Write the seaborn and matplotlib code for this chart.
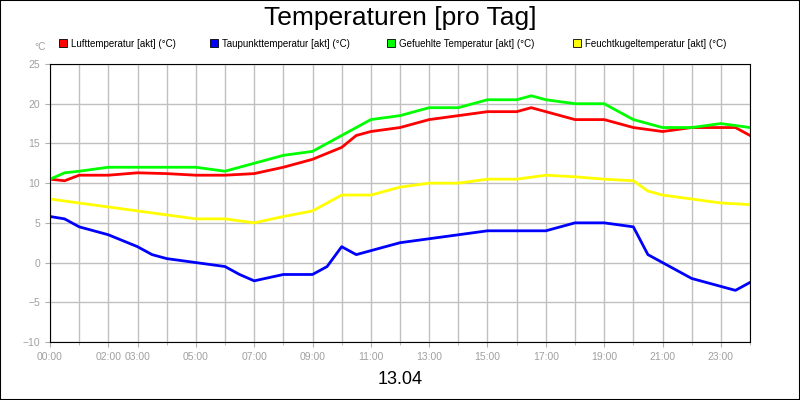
import matplotlib
matplotlib.use("Agg")
import matplotlib.pyplot as plt
import seaborn as sns
import pandas as pd
from matplotlib.patches import Rectangle

plt.rcParams["font.family"] = "Liberation Sans"

t_red = [0,0.5,1,2,3,4,5,6,7,8,9,10,10.5,11,12,13,14,15,16,16.5,17,18,19,19.5,20,21,22,23,23.5,24]
luft = [10.5,10.3,11,11,11.3,11.2,11,11,11.2,12,13,14.5,16,16.5,17,18,18.5,19,19,19.5,19,18,18,17.5,17,16.5,17,17,17,16]
t_green = [0,0.5,1,2,3,4,5,6,7,8,9,10,11,12,13,14,15,16,16.5,17,18,19,20,21,22,23,24]
gef = [10.5,11.3,11.5,12,12,12,12,11.5,12.5,13.5,14,16,18,18.5,19.5,19.5,20.5,20.5,21,20.5,20,20,18,17,17,17.5,17]
t_yel = [0,1,2,3,4,5,6,7,8,9,10,11,12,13,14,15,16,17,18,19,20,20.5,21,22,23,24]
feucht = [8,7.5,7,6.5,6,5.5,5.5,5,5.8,6.5,8.5,8.5,9.5,10,10,10.5,10.5,11,10.8,10.5,10.3,9,8.5,8,7.5,7.3]
t_blue = [0,0.5,1,2,3,3.5,4,5,6,6.5,7,8,9,9.5,10,10.5,11,11.5,12,13,14,15,16,17,18,19,20,20.5,21,22,23,23.5,24]
taup = [5.8,5.5,4.5,3.5,2,1,0.5,0,-0.5,-1.5,-2.3,-1.5,-1.5,-0.5,2,1,1.5,2,2.5,3,3.5,4,4,4,5,5,4.5,1,0,-2,-3,-3.5,-2.5]
tick_pos = [0,2,3,5,7,9,11,13,15,17,19,21,23]
tick_lab = ["00:00","02:00","03:00","05:00","07:00","09:00","11:00","13:00","15:00","17:00","19:00","21:00","23:00"]

fig = plt.figure(figsize=(8,4), dpi=100)
fig.patches.append(Rectangle((0,0),1,1,transform=fig.transFigure,fill=False,edgecolor="black",lw=1.5))
ax = fig.add_axes([0.0625,0.145,0.875,0.695])
series = [("Lufttemperatur [akt] (°C)", t_red, luft, "#ff0000"),
          ("Taupunkttemperatur [akt] (°C)", t_blue, taup, "#0000ff"),
          ("Gefuehlte Temperatur [akt] (°C)", t_green, gef, "#00ff00"),
          ("Feuchtkugeltemperatur [akt] (°C)", t_yel, feucht, "#ffff00")]
for name, t, v, c in series:
    sns.lineplot(x=t, y=v, ax=ax, color=c, lw=2)
ax.set_xlim(0,24); ax.set_ylim(-10,25)
ax.set_xticks(range(0,25), minor=True)
ax.set_xticks(tick_pos); ax.set_xticklabels(tick_lab)
ax.set_yticks(range(-10,26,5))
ax.grid(True, which="both", color="#c0c0c0", lw=1)
ax.set_axisbelow(True)
ax.tick_params(colors="#b0b0b0", labelsize=7.5, labelcolor="#a0a0a0")
ax.tick_params(which="minor", colors="#b0b0b0")
for s in ax.spines.values(): s.set_color("black")
fig.text(0.5,0.955,"Temperaturen [pro Tag]",ha="center",va="center",fontsize=19)
fig.text(0.5,0.05,"13.04",ha="center",va="center",fontsize=13)
fig.text(0.05,0.883,"°C",ha="center",va="center",fontsize=7.5,color="#a0a0a0")
xs=[0.074,0.263,0.484,0.716]
for (name,_,_,c),x in zip(series,xs):
    fig.patches.append(Rectangle((x,0.882),0.01,0.02,transform=fig.transFigure,facecolor=c,edgecolor="black",lw=0.6))
    fig.text(x+0.015,0.891,name,va="center",fontsize=7)
fig.savefig("out.png")
